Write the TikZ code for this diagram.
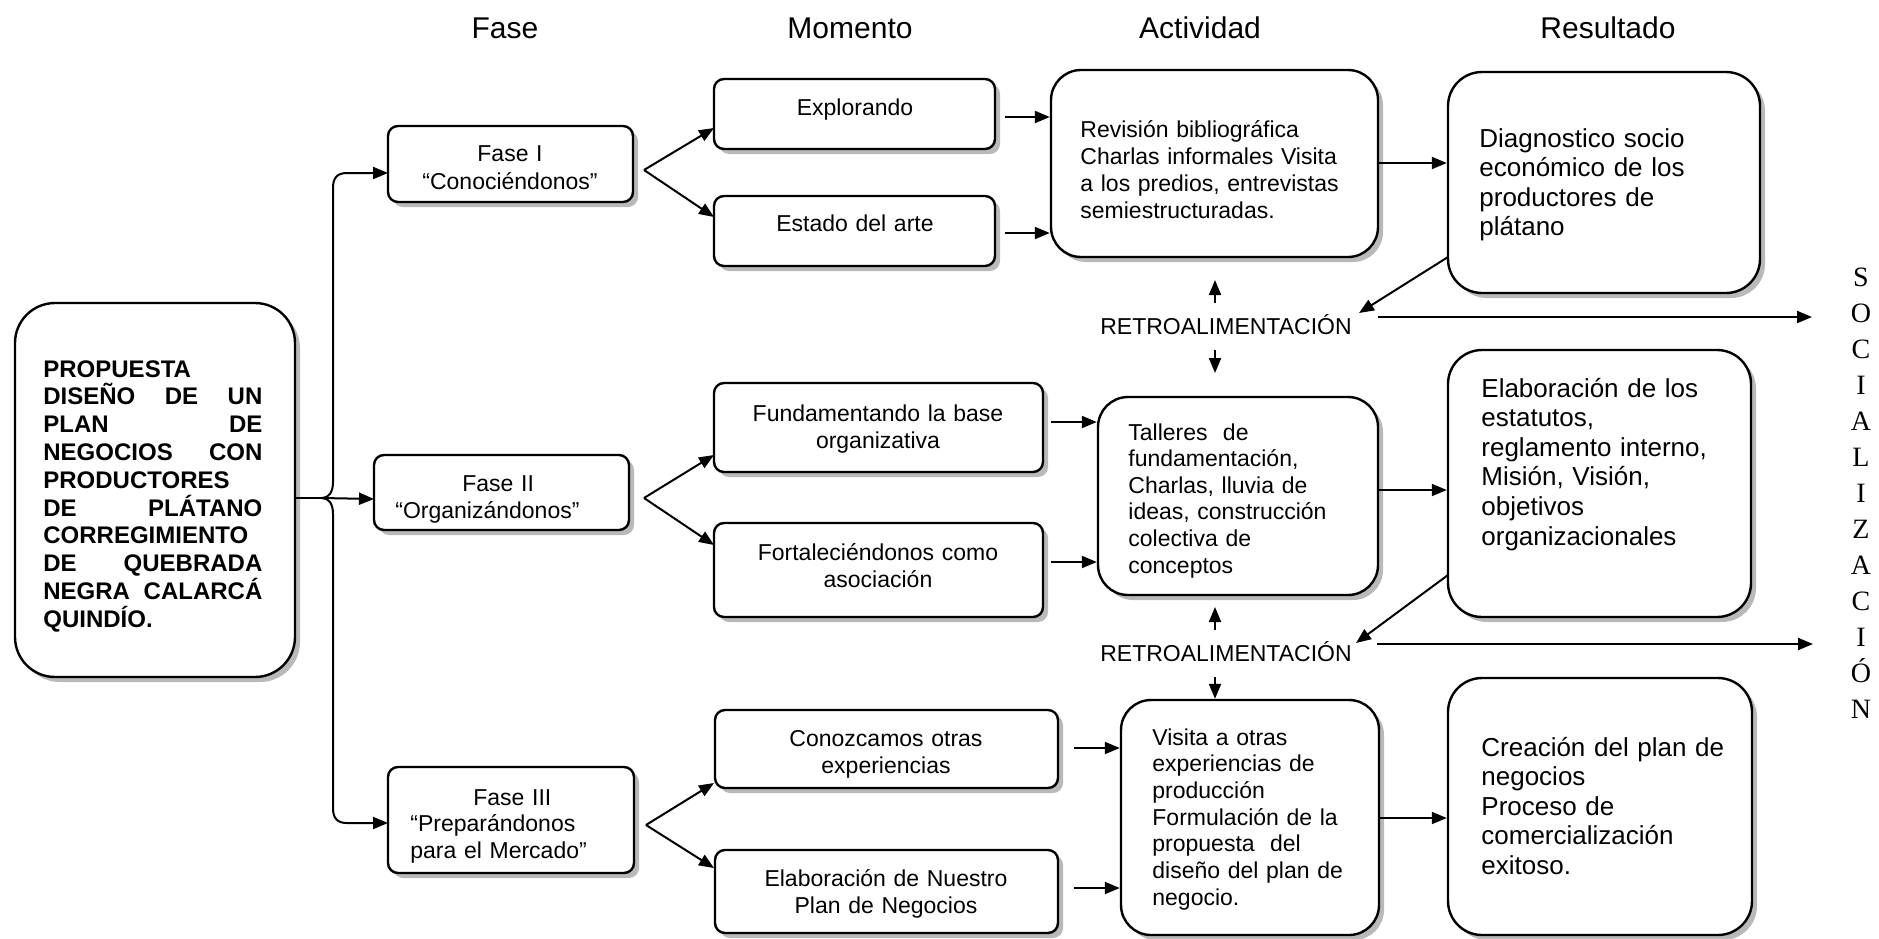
\documentclass[tikz,border=0pt]{standalone}
\usepackage{fontspec}
\setmainfont{Liberation Sans}
\newfontfamily\socfont{Liberation Serif}
\usetikzlibrary{arrows.meta,shadows,fit}
\begin{document}
\begin{tikzpicture}[x=0.5pt,y=-0.5pt,
  bx/.style={draw=black, line width=1.2pt, fill=white, rounded corners=#1, inner sep=0pt,
    general shadow={fill=gray!55, shadow xshift=2.5pt, shadow yshift=-2.5pt}},
  arr/.style={line width=1pt, -{Triangle[length=7.5pt,width=6pt]}},
  ln/.style={line width=1pt},
  tx/.style={inner sep=0pt, font=\fontsize{11.5}{13.5}\selectfont, text width=#1, align=left, anchor=base west},
  rtx/.style={inner sep=0pt, font=\fontsize{13}{14.8}\selectfont, text width=150pt, align=left, anchor=base west},
  ctx/.style={inner sep=0pt, font=\fontsize{11.5}{13.5}\selectfont, text width=200pt, align=center, anchor=base},
  hd/.style={inner sep=0pt, font=\fontsize{15}{18}\selectfont, anchor=base},
  rt/.style={inner sep=0pt, font=\fontsize{11.5}{13.5}\selectfont, anchor=base}]
\useasboundingbox (0,0) rectangle (1879,938);

% headers
\node[hd] (hfase) at (505,38) {Fase};
\node[hd] (hmom) at (850,38) {Momento};
\node[hd] (hact) at (1200,38) {Actividad};
\node[hd] (hres) at (1608,38) {Resultado};

% main box
\node[bx=20pt, fit={(15,303) (295,677)}] (main) {};
\node[tx=109.5pt, font=\fontsize{12}{13.9}\selectfont\bfseries] (maintxt) at (43,377)
  {PROPUESTA\\DISEÑO\hfill DE\hfill UN\\PLAN\hfill DE\\NEGOCIOS\hfill CON\\PRODUCTORES\\DE\hfill PLÁTANO\\CORREGIMIENTO\\DE\hfill QUEBRADA\\NEGRA\hfill CALARCÁ\\QUINDÍO.};

% phases
\node[bx=5pt, fit={(388,126) (633,202)}] (fase1) {};
\node[ctx, font=\fontsize{11.5}{14.3}\selectfont] (fase1t) at (510,161) {Fase I\\“Conociéndonos”};
\node[bx=5pt, fit={(374,455) (629,530)}] (fase2) {};
\node[tx=150pt] (fase2t) at (395,491) {\hspace*{33.5pt}Fase II\\“Organizándonos”};
\node[bx=5pt, fit={(388,767) (634,873)}] (fase3) {};
\node[tx=150pt, font=\fontsize{11.5}{13.25}\selectfont] (fase3t) at (410,805) {\hspace*{31.5pt}Fase III\\“Preparándonos\\para el Mercado”};

% momentos
\node[bx=5pt, fit={(714,79) (995,149)}] (m1) {};
\node[ctx] (m1t) at (855,115) {Explorando};
\node[bx=5pt, fit={(714,196) (995,266)}] (m2) {};
\node[ctx] (m2t) at (855,231) {Estado del arte};
\node[bx=5pt, fit={(714,383) (1043,472)}] (m3) {};
\node[ctx] (m3t) at (878,421) {Fundamentando la base\\organizativa};
\node[bx=5pt, fit={(714,523) (1043,617)}] (m4) {};
\node[ctx] (m4t) at (878,560) {Fortaleciéndonos como\\asociación};
\node[bx=5pt, fit={(715,710) (1058,788)}] (m5) {};
\node[ctx] (m5t) at (886,746) {Conozcamos otras\\experiencias};
\node[bx=5pt, fit={(715,850) (1058,933)}] (m6) {};
\node[ctx] (m6t) at (886,886) {Elaboración de Nuestro\\Plan de Negocios};

% actividades
\node[bx=15pt, fit={(1051,70) (1378,257)}] (a1) {};
\node[tx=150pt] (a1t) at (1080,137) {Revisión bibliográfica\\Charlas informales Visita\\a los predios, entrevistas\\semiestructuradas.};
\node[bx=15pt, fit={(1098,397) (1378,595)}] (a2) {};
\node[tx=150pt, font=\fontsize{11.5}{13.3}\selectfont] (a2t) at (1128,440) {Talleres\ \ de\\fundamentación,\\Charlas, lluvia de\\ideas, construcción\\colectiva de\\conceptos};
\node[bx=15pt, fit={(1121,700) (1379,935)}] (a3) {};
\node[tx=150pt, font=\fontsize{11.5}{13.35}\selectfont] (a3t) at (1152,745) {Visita a otras\\experiencias de\\producción\\Formulación de la\\propuesta\ \ del\\diseño del plan de\\negocio.};

% resultados
\node[bx=17pt, fit={(1448,72) (1760,293)}] (r1) {};
\node[rtx] (r1t) at (1479,147) {Diagnostico socio\\económico de los\\productores de\\plátano};
\node[bx=17pt, fit={(1448,350) (1751,617)}] (r2) {};
\node[rtx] (r2t) at (1481,397) {Elaboración de los\\estatutos,\\reglamento interno,\\Misión, Visión,\\objetivos\\organizacionales};
\node[bx=17pt, fit={(1448,678) (1752,935)}] (r3) {};
\node[rtx] (r3t) at (1481,756) {Creación del plan de\\negocios\\Proceso de\\comercialización\\exitoso.};

% retroalimentacion
\node[rt] (ret1) at (1226,334) {RETROALIMENTACIÓN};
\node[rt] (ret2) at (1226,661) {RETROALIMENTACIÓN};

% socializacion
\node[inner sep=0pt, font=\socfont\fontsize{14}{18}\selectfont, text width=20pt, align=center, anchor=base] (soc) at (1861,286)
  {S\\O\\C\\I\\A\\L\\I\\Z\\A\\C\\I\\Ó\\N};

% coordinates
\coordinate (bt) at (322,498);
\coordinate (f1in) at (388,173);
\coordinate (f2in) at (374,499);
\coordinate (f3in) at (388,823);
\coordinate (f1o) at (644,170);
\coordinate (f2o) at (644,498);
\coordinate (f3o) at (646,825);
\coordinate (m1in) at (714,128);
\coordinate (m2in) at (714,217);
\coordinate (m3in) at (714,455);
\coordinate (m4in) at (714,545);
\coordinate (m5in) at (714,783);
\coordinate (m6in) at (714,868);
\coordinate (m1o) at (1005,117);
\coordinate (m2o) at (1005,233);
\coordinate (m3o) at (1051,422);
\coordinate (m4o) at (1051,562);
\coordinate (m5o) at (1074,748);
\coordinate (m6o) at (1074,888);
\coordinate (r1o) at (1448,257);
\coordinate (r2o) at (1448,575);
\coordinate (ret1tip) at (1359,313);
\coordinate (ret2tip) at (1356,643);
\coordinate (ret1o) at (1378,317);
\coordinate (ret2o) at (1377,644);
\coordinate (soc1) at (1812,317);
\coordinate (soc2) at (1813,644);
\coordinate (u1a) at (1215,303);
\coordinate (u1b) at (1215,280);
\coordinate (d1a) at (1215,350);
\coordinate (d1b) at (1215,373);
\coordinate (u2a) at (1215,630);
\coordinate (u2b) at (1215,607);
\coordinate (d2a) at (1215,677);

% brace
\draw[ln] (main.east |- bt) -- (bt);
\draw[arr] (bt) .. controls (329,498) and (333,492) .. (333,482) -- (333,188)
  .. controls (333,178) and (337,173) .. (347,173) -- (f1in);
\draw[arr] (bt) .. controls (329,498) and (333,504) .. (333,514) -- (333,808)
  .. controls (333,818) and (337,823) .. (347,823) -- (f3in);
\draw[arr] (bt) -- (f2in);

% phase to momento
\draw[arr] (f1o) -- (m1in);
\draw[arr] (f1o) -- (m2in);
\draw[arr] (f2o) -- (m3in);
\draw[arr] (f2o) -- (m4in);
\draw[arr] (f3o) -- (m5in);
\draw[arr] (f3o) -- (m6in);

% momento to actividad
\draw[arr] (m1o) -- (a1.west |- m1o);
\draw[arr] (m2o) -- (a1.west |- m2o);
\draw[arr] (m3o) -- (a2.west |- m3o);
\draw[arr] (m4o) -- (a2.west |- m4o);
\draw[arr] (m5o) -- (a3.west |- m5o);
\draw[arr] (m6o) -- (a3.west |- m6o);

% actividad to resultado
\coordinate (a1o) at (1378,163);
\coordinate (a2o) at (1378,490);
\coordinate (a3o) at (1379,818);
\draw[arr] (a1o) -- (r1.west |- a1o);
\draw[arr] (a2o) -- (r2.west |- a2o);
\draw[arr] (a3o) -- (r3.west |- a3o);

% feedback
\draw[arr] (r1o) -- (ret1tip);
\draw[arr] (r2o) -- (ret2tip);
\draw[arr] (ret1o) -- (soc1);
\draw[arr] (ret2o) -- (soc2);
\draw[arr] (u1a) -- (u1b);
\draw[arr] (d1a) -- (d1b);
\draw[arr] (u2a) -- (u2b);
\draw[arr] (d2a) -- (a3.north -| d2a);
\end{tikzpicture}
\end{document}
